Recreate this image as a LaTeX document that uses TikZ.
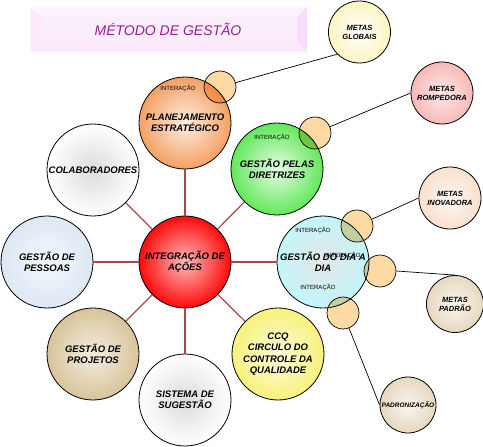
\documentclass[tikz,border=0pt]{standalone}
\usepackage{fontspec}
\setmainfont{Liberation Sans}
\usepackage{tikz}
\definecolor{spokered}{HTML}{A84848}
\definecolor{peach}{HTML}{FDD9A4}
\definecolor{titlepurple}{HTML}{9C1C98}
\definecolor{bannerout}{HTML}{FCE9FC}
\definecolor{bannertop}{HTML}{FDF4FD}
\definecolor{bannerside}{HTML}{F7DDF7}
\definecolor{bannerin}{HTML}{FBEEFB}
\definecolor{planorange}{HTML}{F4A062}
\definecolor{dirgreen}{HTML}{62E85A}
\definecolor{acoesred}{HTML}{FF0A0A}
\definecolor{pessoasblue}{HTML}{DCE8F4}
\definecolor{projtan}{HTML}{D8C49A}
\definecolor{ccqyellow}{HTML}{F7F27A}
\definecolor{diacyan}{HTML}{C2F6FA}
\definecolor{globyellow}{HTML}{FBF5C0}
\definecolor{rompink}{HTML}{F8B8B8}
\definecolor{inovpeach}{HTML}{F9E0CE}
\definecolor{padtan}{HTML}{E6D8C0}

\begin{document}
\begin{tikzpicture}[x=1pt,y=-1pt,
  bigc/.style={circle,draw=black,line width=0.8pt,minimum size=92pt,inner sep=0pt,
    align=center,font=\bfseries\itshape\fontsize{9.5}{11.4}\selectfont},
  metac/.style={circle,draw=black,line width=0.8pt,minimum size=62pt,inner sep=0pt,
    align=center,font=\bfseries\itshape\fontsize{7.5}{9}\selectfont},
  smallc/.style={circle,draw=black,line width=0.7pt,fill=peach,minimum size=32pt,inner sep=0pt},
  spoke/.style={spokered,line width=1.2pt},
  link/.style={black,line width=0.7pt},
  inter/.style={inner sep=0pt,font=\fontsize{6}{7}\selectfont}]
  \useasboundingbox (0,0) rectangle (483,447);
  \fill[bannerout] (31,7) rectangle (307,52);
  \fill[bannertop] (31,7) -- (307,7) -- (297,17) -- (42,17) -- cycle;
  \fill[bannerside] (307,7) -- (307,52) -- (297,42) -- (297,17) -- cycle;
  \fill[bannerin] (42,17) rectangle (297,42);
  \node[titlepurple,font=\itshape\fontsize{14}{16}\selectfont] (title) at (168,29) {MÉTODO DE GESTÃO};

  \node[bigc,shade,inner color=acoesred!28!white,outer color=acoesred] (acoes) at (185,262) {INTEGRAÇÃO DE\\AÇÕES};
  \node[bigc,shade,inner color=planorange!18!white,outer color=planorange] (plan) at (185,123) {PLANEJAMENTO\\ESTRATÉGICO};
  \node[bigc,shade,inner color=dirgreen!15!white,outer color=dirgreen] (dir) at (277,169) {GESTÃO PELAS\\DIRETRIZES};
  \node[bigc,shade,inner color=black!14,outer color=white] (colab) at (93,170) {COLABORADORES};
  \node[bigc,shade,inner color=pessoasblue!30!white,outer color=pessoasblue] (pessoas) at (47,262) {GESTÃO DE\\PESSOAS};
  \node[bigc,shade,inner color=diacyan!20!black!12,outer color=diacyan] (dia) at (323,262) {GESTÃO DO DIA A\\DIA};
  \node[bigc,shade,inner color=projtan!30!white,outer color=projtan] (proj) at (93,354) {GESTÃO DE\\PROJETOS};
  \node[bigc,shade,inner color=black!14,outer color=white] (sug) at (185,400) {SISTEMA DE\\SUGESTÃO};
  \node[bigc,shade,inner color=ccqyellow!25!white,outer color=ccqyellow] (ccq) at (278,354) {CCQ\\CIRCULO DO\\CONTROLE DA\\QUALIDADE};

  \foreach \n in {plan,dir,colab,pessoas,dia,proj,sug,ccq}
    \draw[spoke] (acoes) -- (\n);

  \node[metac,shade,inner color=white,outer color=globyellow] (globais) at (359.5,32) {METAS\\GLOBAIS};
  \node[metac,shade,inner color=rompink!30!white,outer color=rompink] (romp) at (442,93) {METAS\\ROMPEDORA};
  \node[metac,shade,inner color=inovpeach!25!white,outer color=inovpeach] (inov) at (450,198) {METAS\\INOVADORA};
  \node[metac,minimum size=57pt,shade,inner color=padtan!25!white,outer color=padtan] (padrao) at (455,304) {METAS\\PADRÃO};
  \node[metac,minimum size=56pt,font=\bfseries\itshape\fontsize{6.5}{8}\selectfont,
    shade,inner color=padtan!25!white,outer color=padtan] (padron) at (408,405) {PADRONIZAÇÃO};

  \begin{scope}[blend mode=multiply]
    \node[smallc] (s1) at (220,87) {};
    \node[smallc] (s2) at (315,133) {};
    \node[smallc] (s3) at (357,226) {};
    \node[smallc] (s4) at (380,271) {};
    \node[smallc] (s5) at (343,313) {};
  \end{scope}

  \draw[link] (s1) -- (globais.225);
  \draw[link] (s2) -- (romp.west);
  \draw[link] (s3) -- (inov.west);
  \draw[link] (s4.east) -- (padrao.north);
  \draw[link] (s5) -- (padron.west);

  \node[inter] (i1) at (178,89) {INTERAÇÃO};
  \node[inter] (i2) at (272,138) {INTERAÇÃO};
  \node[inter] (i3) at (313,231) {INTERAÇÃO};
  \node[inter] (i4) at (343,256) {INTERAÇÃO};
  \node[inter] (i5) at (318,288) {INTERAÇÃO};
\end{tikzpicture}
\end{document}
